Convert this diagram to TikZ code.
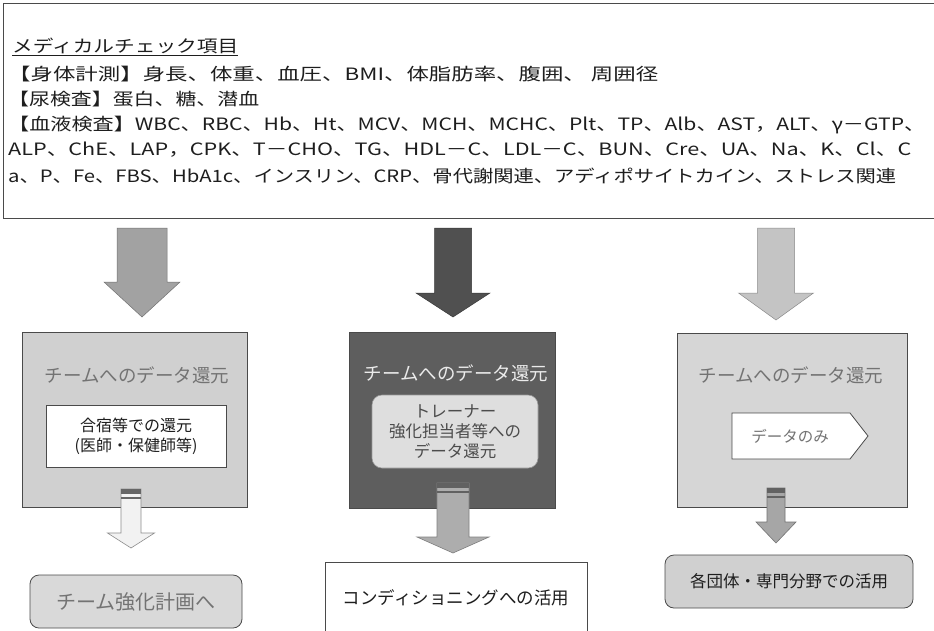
\documentclass[tikz,border=0pt]{standalone}
\usepackage{fontspec}
\usepackage{graphicx}
\setmainfont{Noto Sans CJK JP}
\definecolor{txt}{HTML}{1E1E1E}
\definecolor{arrL}{HTML}{A2A2A2}
\definecolor{arrM}{HTML}{505050}
\definecolor{arrR}{HTML}{C4C4C4}
\definecolor{boxL}{HTML}{D0D0D0}
\definecolor{boxM}{HTML}{5E5E5E}
\definecolor{boxR}{HTML}{D6D6D6}
\definecolor{edge}{HTML}{4A4A4A}
\newcommand\blkarrow[7]{%
  \draw[#1] (#2-#4,#3) -- (#2+#4,#3) -- (#2+#4,#6) -- (#2+#5,#6) -- (#2,#7)
    -- (#2-#5,#6) -- (#2-#4,#6) -- cycle;}
\newcommand\stripes[4]{% color, cx, top, half
  \fill[#1] (#2-#4,#3) rectangle (#2+#4,#3+5);
  \fill[#1] (#2-#4,#3+8) rectangle (#2+#4,#3+10);}
\tikzset{
  toptext/.style={anchor=west, inner sep=0pt, text=txt, font=\fontsize{17}{20}\selectfont},
  panel/.style={draw=edge, line width=0.8pt, minimum width=#1, inner sep=0pt},
  title/.style={font=\fontsize{18.5}{22}\selectfont, inner sep=0pt},
  inner/.style={font=\fontsize{16}{20}\selectfont, align=center, inner sep=0pt},
}
\begin{document}
\begin{tikzpicture}[x=1pt,y=-1pt]
\useasboundingbox (0,0) rectangle (934,630);
\fill[white] (0,0) rectangle (934,630);
% top box
\draw[edge, line width=0.8pt] (3,3) rectangle (945,218);
\node[toptext] (l1) at (12,47) {\resizebox{226pt}{\height}{\underline{メディカルチェック項目}}};
\node[toptext] (l2) at (8,74) {\resizebox{650pt}{\height}{【身体計測】身長、体重、血圧、BMI、体脂肪率、腹囲、 周囲径}};
\node[toptext] (l3) at (8,99) {\resizebox{251pt}{\height}{【尿検査】蛋白、糖、潜血}};
\node[toptext] (l4) at (8,125) {\resizebox{917pt}{\height}{【血液検査】WBC、RBC、Hb、Ht、MCV、MCH、MCHC、Plt、TP、Alb、AST，ALT、γ－GTP、}};
\node[toptext] (l5) at (8,150) {\resizebox{903pt}{\height}{ALP、ChE、LAP，CPK、T－CHO、TG、HDL－C、LDL－C、BUN、Cre、UA、Na、K、Cl、C}};
\node[toptext] (l6) at (8,176) {\resizebox{888pt}{\height}{a、P、Fe、FBS、HbA1c、インスリン、CRP、骨代謝関連、アディポサイトカイン、ストレス関連}};

% big arrows
\blkarrow{fill=arrL, draw=arrL!70!black, line width=0.5pt}{142}{228}{25}{38}{282}{317}
\blkarrow{fill=arrM, draw=arrM!70!black, line width=0.5pt}{453}{228}{18.5}{37}{293}{317}
\blkarrow{fill=arrR, draw=arrR!70!black, line width=0.5pt}{776}{228}{18.5}{37.5}{293}{320}

% left column
\node[panel=225pt, minimum height=175pt, fill=boxL] (boxl) at (134.5,419.5) {};
\node[title, text=black!55] (tl) at (137,375) {チームへのデータ還元};
\node[draw=edge, line width=0.8pt, fill=white, minimum width=180pt, minimum height=62pt, inner sep=0pt] (il) at (136,436) {};
\node[inner, text=txt] at (il) {合宿等での還元\\(医師・保健師等)};
\blkarrow{fill=black!5, draw=black!45, line width=0.6pt}{131}{489}{10}{23.5}{533}{548}
\stripes{black!60}{131}{489}{10}
\node[draw=edge, line width=0.8pt, fill=boxL!80!white, rounded corners=9pt, minimum width=212pt, minimum height=53pt, inner sep=0pt] (bl) at (136,601.5) {};
\node[font=\fontsize{20}{24}\selectfont, text=black!55, inner sep=0pt] at (bl) {チーム強化計画へ};

% middle column
\node[panel=206pt, minimum height=176pt, fill=boxM] (boxm) at (452,420) {};
\node[title, text=black!8] (tm) at (456,373) {チームへのデータ還元};
\node[draw=black!40, line width=0.6pt, fill=black!13, rounded corners=10pt, minimum width=166pt, minimum height=73pt, inner sep=0pt] (im) at (455,431.5) {};
\node[inner, text=black!70, font=\fontsize{16.5}{20}\selectfont] at (im) {トレーナー\\強化担当者等への\\データ還元};
\blkarrow{fill=black!32, draw=black!50, line width=0.6pt}{453}{483}{16}{36}{537}{553}
\stripes{black!62}{453}{483}{16}
\node[draw=edge, line width=0.8pt, fill=white, minimum width=262pt, minimum height=83pt, inner sep=0pt] (bm) at (456,603.5) {};
\node[font=\fontsize{17.5}{21}\selectfont, text=txt, inner sep=0pt] at (456,598) {コンディショニングへの活用};

% right column
\node[panel=230pt, minimum height=174pt, fill=boxR] (boxr) at (792,420) {};
\node[title, text=black!55] (tr) at (791,375) {チームへのデータ還元};
\coordinate (pa) at (732,413);
\draw[draw=edge, line width=0.8pt, fill=white] (pa) -- (850,413) -- (868,436) -- (850,459) -- (732,459) -- cycle;
\node[font=\fontsize{15.5}{19}\selectfont, text=black!55, inner sep=0pt] (ir) at (790,436) {データのみ};
\blkarrow{fill=black!35, draw=black!55, line width=0.6pt}{776}{488}{9}{20}{522}{543}
\stripes{black!62}{776}{488}{9}
\node[draw=edge, line width=0.8pt, fill=boxL, rounded corners=9pt, minimum width=248pt, minimum height=53pt, inner sep=0pt] (br) at (789,581.5) {};
\node[font=\fontsize{16.5}{20}\selectfont, text=txt, inner sep=0pt] at (br) {各団体・専門分野での活用};
\end{tikzpicture}
\end{document}
